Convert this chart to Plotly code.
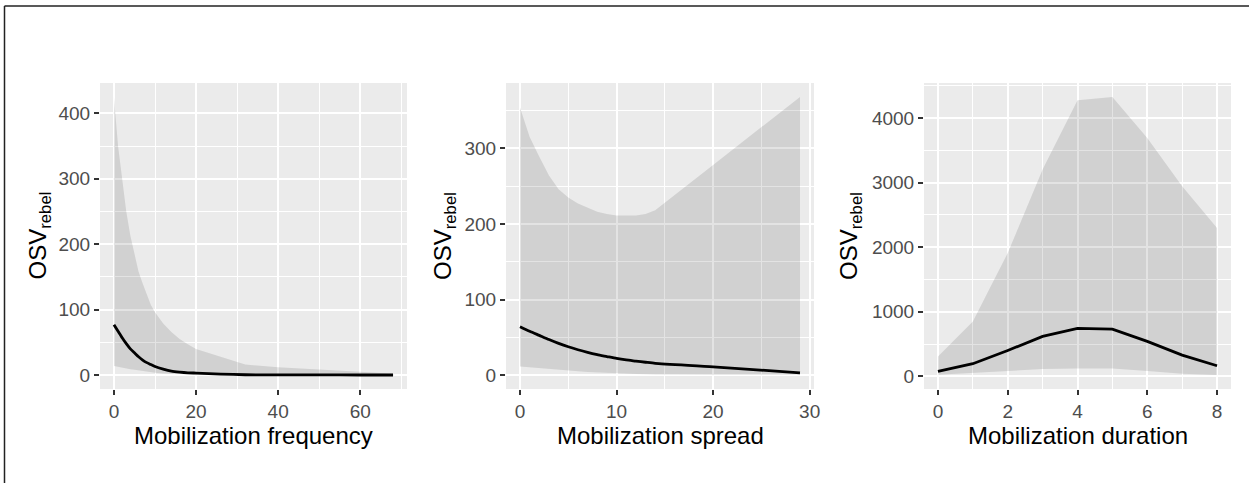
import plotly.graph_objects as go

# ---- Mobilization frequency ----
freq_x = [0, 1, 2, 3, 4, 5, 6, 7, 8, 9, 10, 12, 14, 16, 18, 20, 26, 32, 40, 50, 60, 68]
freq_mean = [77, 67, 57, 48, 40, 34, 28, 23, 19, 16, 13, 9, 6, 4.5, 3.5, 3, 1.5, 0.5, 0.3, 0.2, 0.1, 0.1]
freq_lo = [14, 12.5, 11, 10, 9, 8, 7, 6, 5, 4, 3.5, 2.5, 2, 1.5, 1, 0.8, 0.4, 0.2, 0.1, 0.1, 0.1, 0.1]
freq_hi = [425, 350, 300, 250, 213, 184, 158, 140, 123, 107, 96, 79, 66, 55, 47, 40, 28, 16, 12, 8, 5, 2]

# ---- Mobilization spread ----
spread_x = [0, 1, 2, 3, 4, 5, 6, 7, 8, 9, 10, 11, 12, 13, 14, 20, 29]
spread_mean = [64, 58, 52.5, 47, 42, 37.5, 33.5, 30, 27, 24.5, 22, 20, 18.5, 17, 15.5, 11, 3]
spread_lo = [11.5, 10.3, 9.1, 8, 6.8, 5.7, 5, 4.2, 3.5, 2.8, 2.2, 1.8, 1.5, 1.2, 0.9, 0.5, 0.3]
spread_hi = [354, 315, 289, 264, 246, 235, 227, 221, 216, 213, 211, 211, 211, 213, 218, 278, 368]

# ---- Mobilization duration ----
dur_x = [0, 1, 2, 3, 4, 5, 6, 7, 8]
dur_mean = [77, 197, 402, 619, 743, 733, 542, 331, 166]
dur_lo = [26, 52, 88, 114, 124, 124, 84, 42, 21]
dur_hi = [310, 851, 1910, 3200, 4272, 4325, 3690, 2941, 2297]

x_titles = ["Mobilization frequency", "Mobilization spread", "Mobilization duration"]
y_title = "OSV<sub>rebel</sub>"

panels = [
    dict(x=freq_x, m=freq_mean, lo=freq_lo, hi=freq_hi, shape="spline",
         xr=[-3.4, 71.4], yr=[-21.3, 446.5], xd=20, yd=100,
         dom=[100, 407], ytitle_x=38.5),
    dict(x=spread_x, m=spread_mean, lo=spread_lo, hi=spread_hi, shape="spline",
         xr=[-1.45, 30.45], yr=[-18.4, 386.4], xd=10, yd=100,
         dom=[506, 814], ytitle_x=444),
    dict(x=dur_x, m=dur_mean, lo=dur_lo, hi=dur_hi, shape="linear",
         xr=[-0.4, 8.4], yr=[-194, 4540], xd=2, yd=1000,
         dom=[924, 1231], ytitle_x=850),
]

W, H = 1249, 483
plot_top, plot_bottom = 83, 389
ydom = [1 - plot_bottom / H, 1 - plot_top / H]

FONT = "Liberation Sans, Arial, sans-serif"
TICK_FONT = dict(family=FONT, size=19, color="#4D4D4D")
fig = go.Figure()
annotations = []


def axis_style(rng, dt, dom, anc):
    return dict(
        domain=dom, range=rng, anchor=anc,
        showgrid=True, gridcolor="white", gridwidth=1.8,
        zeroline=False, showline=False,
        ticks="outside", ticklen=5, tickwidth=1.8, tickcolor="#333333",
        tickfont=TICK_FONT,
        tickmode="linear", tick0=0, dtick=dt, automargin=False,
        tickformat="d",
        minor=dict(dtick=dt / 2, tick0=0, showgrid=True,
                   gridcolor="white", gridwidth=0.9, ticks=""),
    )


for i, p in enumerate(panels, start=1):
    xa = "x" if i == 1 else f"x{i}"
    ya = "y" if i == 1 else f"y{i}"
    # ribbon: lower edge, then upper edge filled down to it
    fig.add_trace(go.Scatter(x=p["x"], y=p["lo"], mode="lines",
                             line=dict(width=0, color="rgba(0,0,0,0)"),
                             showlegend=False, hoverinfo="skip",
                             xaxis=xa, yaxis=ya))
    fig.add_trace(go.Scatter(x=p["x"], y=p["hi"], mode="lines",
                             line=dict(width=0, color="rgba(0,0,0,0)"),
                             fill="tonexty", fillcolor="rgba(0,0,0,0.11)",
                             showlegend=False, hoverinfo="skip",
                             xaxis=xa, yaxis=ya))
    line = dict(width=2.8, color="black", shape=p["shape"])
    if p["shape"] == "spline":
        line["smoothing"] = 0.6
    fig.add_trace(go.Scatter(x=p["x"], y=p["m"], mode="lines", line=line,
                             showlegend=False, xaxis=xa, yaxis=ya))

    xdom = [p["dom"][0] / W, p["dom"][1] / W]
    xkey = "xaxis" if i == 1 else f"xaxis{i}"
    ykey = "yaxis" if i == 1 else f"yaxis{i}"
    fig.update_layout({
        xkey: axis_style(p["xr"], p["xd"], xdom, ya),
        ykey: axis_style(p["yr"], p["yd"], ydom, xa),
    })

    cx = (p["dom"][0] + p["dom"][1]) / 2 / W
    annotations.append(dict(
        text=x_titles[i - 1], xref="paper", yref="paper",
        x=cx, y=1 - 435 / H, xanchor="center", yanchor="middle",
        showarrow=False, font=dict(family=FONT, size=24, color="black")))
    annotations.append(dict(
        text=y_title, xref="paper", yref="paper",
        x=p["ytitle_x"] / W, y=1 - 236 / H, xanchor="center", yanchor="middle",
        textangle=-90, showarrow=False,
        font=dict(family=FONT, size=24, color="black")))

# frame lines along the top and left edges
shapes = [
    dict(type="line", xref="paper", yref="paper",
         x0=4.5 / W, x1=1, y0=1 - 6 / H, y1=1 - 6 / H,
         line=dict(color="#222222", width=1.5)),
    dict(type="line", xref="paper", yref="paper",
         x0=4.5 / W, x1=4.5 / W, y0=0, y1=1 - 6 / H,
         line=dict(color="#222222", width=1.5)),
]

fig.update_layout(
    width=W, height=H,
    margin=dict(l=0, r=0, t=0, b=0),
    paper_bgcolor="white", plot_bgcolor="#EBEBEB",
    annotations=annotations, shapes=shapes,
    showlegend=False,
)

fig.write_html("out.html", config={"displayModeBar": False})
